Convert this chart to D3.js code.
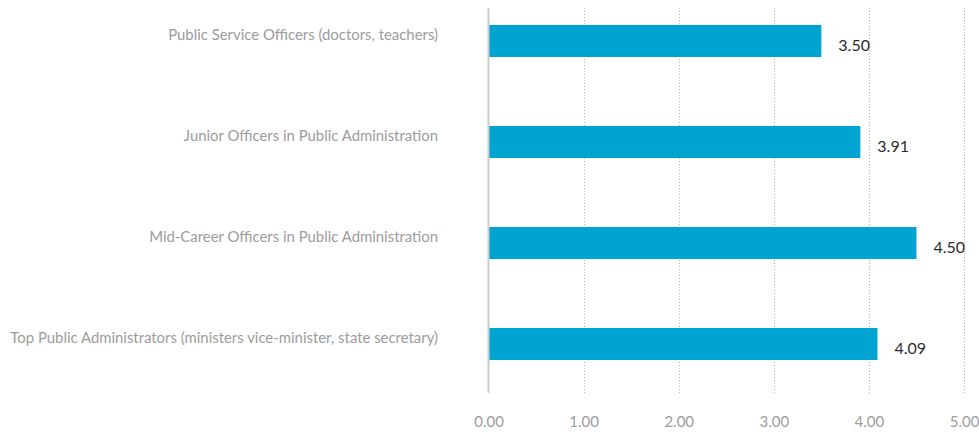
<!DOCTYPE html>
<html>
<head>
<meta charset="utf-8">
<script src="https://cdn.jsdelivr.net/npm/d3@7"></script>
<style>
  html, body { margin: 0; padding: 0; background: #fff; }
  svg { display: block; }
</style>
</head>
<body>
<svg id="chart" width="979" height="432"></svg>
<script>
const categories = [
  "Public Service Officers (doctors, teachers)",
  "Junior Officers in Public Administration",
  "Mid-Career Officers in Public Administration",
  "Top Public Administrators (ministers vice-minister, state secretary)"
];
const values = [3.50, 3.91, 4.50, 4.09];
const tickValues = [0, 1, 2, 3, 4, 5];

const svg = d3.select("#chart");
const x = d3.scaleLinear().domain([0, 5]).range([488.5, 964]);
const y = d3.scaleBand().domain(categories).range([-9.5, 394.5])
  .paddingInner(0.683).paddingOuter(0.3415);

const gridTop = 8, gridBottom = 393;

// grid lines
svg.append("g").selectAll("line").data(tickValues.filter(d => d > 0)).join("line")
  .attr("x1", d => Math.round(x(d)) + 0.5).attr("x2", d => Math.round(x(d)) + 0.5)
  .attr("y1", gridTop).attr("y2", gridBottom)
  .attr("stroke", "#b5b5b5").attr("stroke-width", 1).attr("stroke-dasharray", "1,2");

// bars
svg.append("g").selectAll("rect").data(values).join("rect")
  .attr("x", x(0)).attr("y", (d, i) => y(categories[i]))
  .attr("width", d => x(d) - x(0)).attr("height", y.bandwidth())
  .attr("fill", "#00a4d0");

// zero axis line
svg.append("line").attr("x1", x(0)).attr("x2", x(0))
  .attr("y1", gridTop).attr("y2", gridBottom)
  .attr("stroke", "#cccccc").attr("stroke-width", 2);

// category labels
svg.append("g").selectAll("text").data(categories).join("text")
  .attr("x", 438).attr("y", d => y(d) + y.bandwidth() / 2 - 1)
  .attr("text-anchor", "end")
  .attr("font-family", "Lato, 'Open Sans', sans-serif").attr("font-size", 14.9)
  .attr("fill", "#9c9c9c")
  .text(d => d);

// value labels
svg.append("g").selectAll("text").data(values).join("text")
  .attr("x", d => x(d) + 17).attr("y", (d, i) => y(categories[i]) + y.bandwidth() / 2 + 9.5)
  .attr("font-family", "Lato, 'Open Sans', sans-serif").attr("font-size", 16)
  .attr("fill", "#2b2b2b")
  .text(d => d.toFixed(2));

// x axis tick labels
const xAxis = d3.axisBottom(x).tickValues(tickValues).tickFormat(d3.format(".2f")).tickSize(0).tickPadding(0);
const ax = svg.append("g").attr("transform", "translate(0,416)").call(xAxis);
ax.select(".domain").remove();
ax.selectAll("text").attr("font-family", "Lato, 'Open Sans', sans-serif").attr("font-size", 15)
  .attr("fill", "#9c9c9c").attr("dy", "0.71em");
</script>
</body>
</html>
